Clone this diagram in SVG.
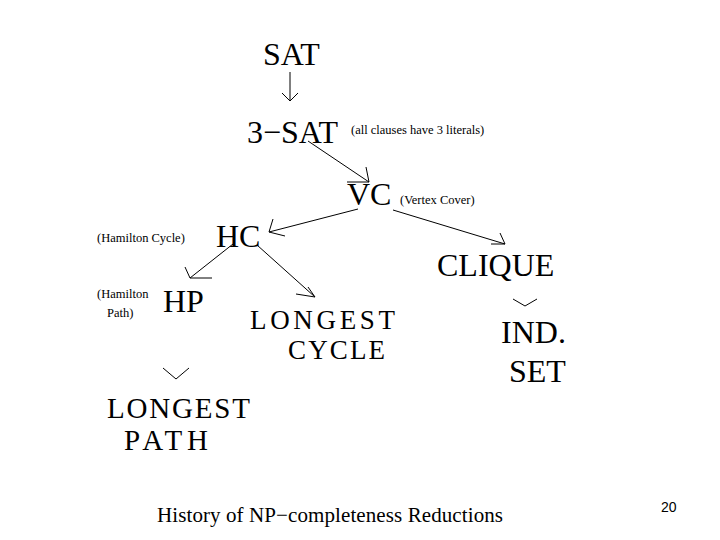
<svg xmlns="http://www.w3.org/2000/svg" width="720" height="540" viewBox="0 0 720 540">
<style>
text{font-family:"Liberation Serif","DejaVu Serif","Times New Roman",serif;fill:#000}
.big{font-size:32px}
.mid{font-size:29px}
.cy{font-size:27px}
.sm{font-size:12.5px}
.foot{font-size:21px}
text.num{font-family:"Liberation Sans","DejaVu Sans",Arial,sans-serif;font-size:14px}
.ln{stroke:#000;stroke-width:1;fill:none}
</style>
<rect width="720" height="540" fill="#fff"/>
<g id="sat"><text class="big" x="263" y="65">SAT</text></g>
<g id="sat3"><text class="big" x="247" y="143">3−SAT</text><text class="sm" x="351" y="134">(all clauses have 3 literals)</text></g>
<g id="vc"><text class="big" x="347" y="205">VC</text><text class="sm" x="400" y="204">(Vertex Cover)</text></g>
<g id="hc"><text class="sm" x="97" y="242">(Hamilton Cycle)</text><text class="big" x="216" y="247">HC</text></g>
<g id="clique"><text class="big" x="437" y="276">CLIQUE</text></g>
<g id="hp"><text class="sm" x="97" y="298">(Hamilton</text><text class="sm" x="107" y="317">Path)</text><text class="big" x="163" y="312">HP</text></g>
<g id="lcycle"><text class="cy" x="250" y="329" textLength="145">LONGEST</text><text class="cy" x="288" y="359" textLength="97">CYCLE</text></g>
<g id="indset"><text class="big" x="501" y="343">IND.</text><text class="big" x="509" y="382">SET</text></g>
<g id="lpath"><text class="mid" x="107" y="418" textLength="143">LONGEST</text><text class="mid" x="124" y="450" textLength="84">PATH</text></g>
<g id="title"><text class="foot" x="157" y="522" textLength="346">History of NP−completeness Reductions</text></g>
<g id="page"><text class="num" x="661" y="512">20</text></g>
<g id="connectors" class="ln">
<path d="M290 72V101M282 93L290 101L298 93"/>
<path d="M308 141L369 182M347 182H369L366 167"/>
<path d="M358 209L269 232M273 219L269 232L285 236"/>
<path d="M393 210L505 244M500 233L505 244L491 244"/>
<path d="M233 244L190 278M185 267L190 278H212"/>
<path d="M257 245L315 297M308 287L315 297L296 294"/>
<path d="M513 299L525 306L537 299"/>
<path d="M163 368L176 379L189 368"/>
</g>
</svg>
